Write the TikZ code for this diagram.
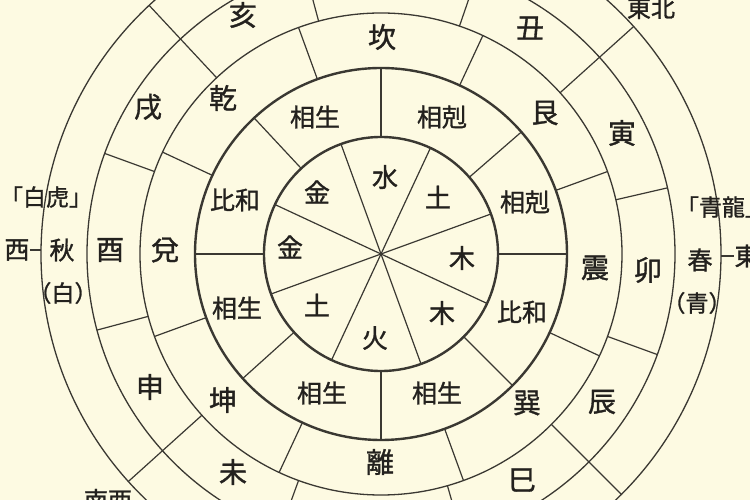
\documentclass[tikz,border=0pt]{standalone}
\usepackage{fontspec}
\newfontfamily\cjk[RawFeature={embolden=1.2}]{Noto Sans CJK JP}
\definecolor{paper}{RGB}{253,250,226}
\definecolor{pen}{RGB}{58,56,50}
\definecolor{letter}{RGB}{35,33,30}

\begin{document}
\begin{tikzpicture}[x=1pt,y=1pt,
        ring/.style={draw=pen,line width=1.3pt},
        thick ring/.style={draw=pen,line width=2.4pt},
        spoke/.style={draw=pen,line width=1.2pt},
        wx/.style={inner sep=0pt,text=letter,font=\cjk\fontsize{26}{26}\selectfont},
        rel/.style={inner sep=0pt,text=letter,font=\cjk\fontsize{25}{25}\selectfont},
        gua/.style={inner sep=0pt,text=letter,font=\cjk\fontsize{28}{28}\selectfont},
        zhi/.style={inner sep=0pt,text=letter,font=\cjk\fontsize{28}{28}\selectfont},
        dir/.style={inner sep=0pt,text=letter,font=\cjk\fontsize{23}{23}\selectfont}]
        \fill[paper] (-381,-246) rectangle (369,254);
        \useasboundingbox (-381,-246) rectangle (369,254);
        % rings
        \draw[ring] (0,0) circle (340pt);
        \draw[ring] (0,0) circle (294pt);
        \draw[ring] (0,0) circle (241pt);
        \draw[thick ring] (0,0) circle (186pt);
        \draw[thick ring] (0,0) circle (117pt);
        % dividers
        \foreach \a in {20,65,...,335} \draw[spoke] (0,0) -- (\a:117);
        \foreach \a in {0,41,90,133,180,222,270,315} \draw[spoke] (\a:117) -- (\a:186);
        \foreach \a in {20,65,...,335} \draw[spoke] (\a:186) -- (\a:241);
        \foreach \a in {13,71,105,160,195,250,286,340} \draw[spoke] (\a:241) -- (\a:294);
        \foreach \a in {42,133,222,315} \draw[spoke] (\a:241) -- (\a:340);
        % five phases
        \node[wx] (shui) at (4,77) {水};
        \node[wx] (tu1) at (57,57) {土};
        \node[wx] (mu1) at (81,-4) {木};
        \node[wx] (mu2) at (61,-59) {木};
        \node[wx] (huo) at (-6,-84) {火};
        \node[wx] (tu2) at (-64,-51) {土};
        \node[wx] (jin1) at (-91,7) {金};
        \node[wx] (jin2) at (-64,62) {金};
        % relations
        \node[rel] (sheng1) at (-66,137) {相生};
        \node[rel] (ke1) at (61,137) {相剋};
        \node[rel] (ke2) at (144,52) {相剋};
        \node[rel] (bihe1) at (141,-58) {比和};
        \node[rel] (sheng2) at (56,-139) {相生};
        \node[rel] (sheng3) at (-59,-139) {相生};
        \node[rel] (sheng4) at (-144,-54) {相生};
        \node[rel] (bihe2) at (-146,54) {比和};
        % trigrams
        \node[gua] (kan) at (1,217) {坎};
        \node[gua] (gen) at (164,141) {艮};
        \node[gua] (zhen) at (214,-14) {震};
        \node[gua] (xun) at (146,-149) {巽};
        \node[gua] (li) at (-1,-208) {離};
        \node[gua] (kun) at (-158,-146) {坤};
        \node[gua] (dui) at (-216,4) {兌};
        \node[gua] (qian) at (-158,156) {乾};
        % branches
        \node[zhi] (chou) at (149,226) {丑};
        \node[zhi] (yin) at (241,121) {寅};
        \node[zhi] (mao) at (267,-16) {卯};
        \node[zhi] (chen) at (221,-148) {辰};
        \node[zhi] (si) at (141,-226) {巳};
        \node[zhi] (wei) at (-148,-218) {未};
        \node[zhi] (shen) at (-231,-133) {申};
        \node[zhi] (you) at (-271,4) {酉};
        \node[zhi] (xu) at (-233,147) {戌};
        \node[zhi] (hai) at (-138,239) {亥};
        % outer ring
        \node[dir] (baihu) at (-335,57) {「白虎」};
        \node[dir,font=\cjk\fontsize{25}{25}\selectfont] (xi) at (-364,4) {西};
        \node[dir,font=\cjk\fontsize{25}{25}\selectfont] (qiu) at (-319,4) {秋};
        \node[dir] (bai) at (-318,-39) {（白）};
        \node[dir] (qinglong) at (341,47) {「青龍」};
        \node[dir,font=\cjk\fontsize{25}{25}\selectfont] (chun) at (319,-6) {春};
        \node[dir] (qing) at (316,-49) {（青）};
        \node[dir,font=\cjk\fontsize{25}{25}\selectfont] (dong) at (366,-2) {東};
        \node[dir,font=\cjk\fontsize{24}{24}\selectfont] (dongbei) at (270,246) {東北};
        \node[dir,font=\cjk\fontsize{24}{24}\selectfont] (nanxi) at (-273,-246) {南西};
        \coordinate (w5) at (-340,4);
        \coordinate (e5) at (340,-2);
        \draw[spoke] (xi.east) -- (w5);
        \draw[spoke] (e5) -- (dong.west);
\end{tikzpicture}
\end{document}
